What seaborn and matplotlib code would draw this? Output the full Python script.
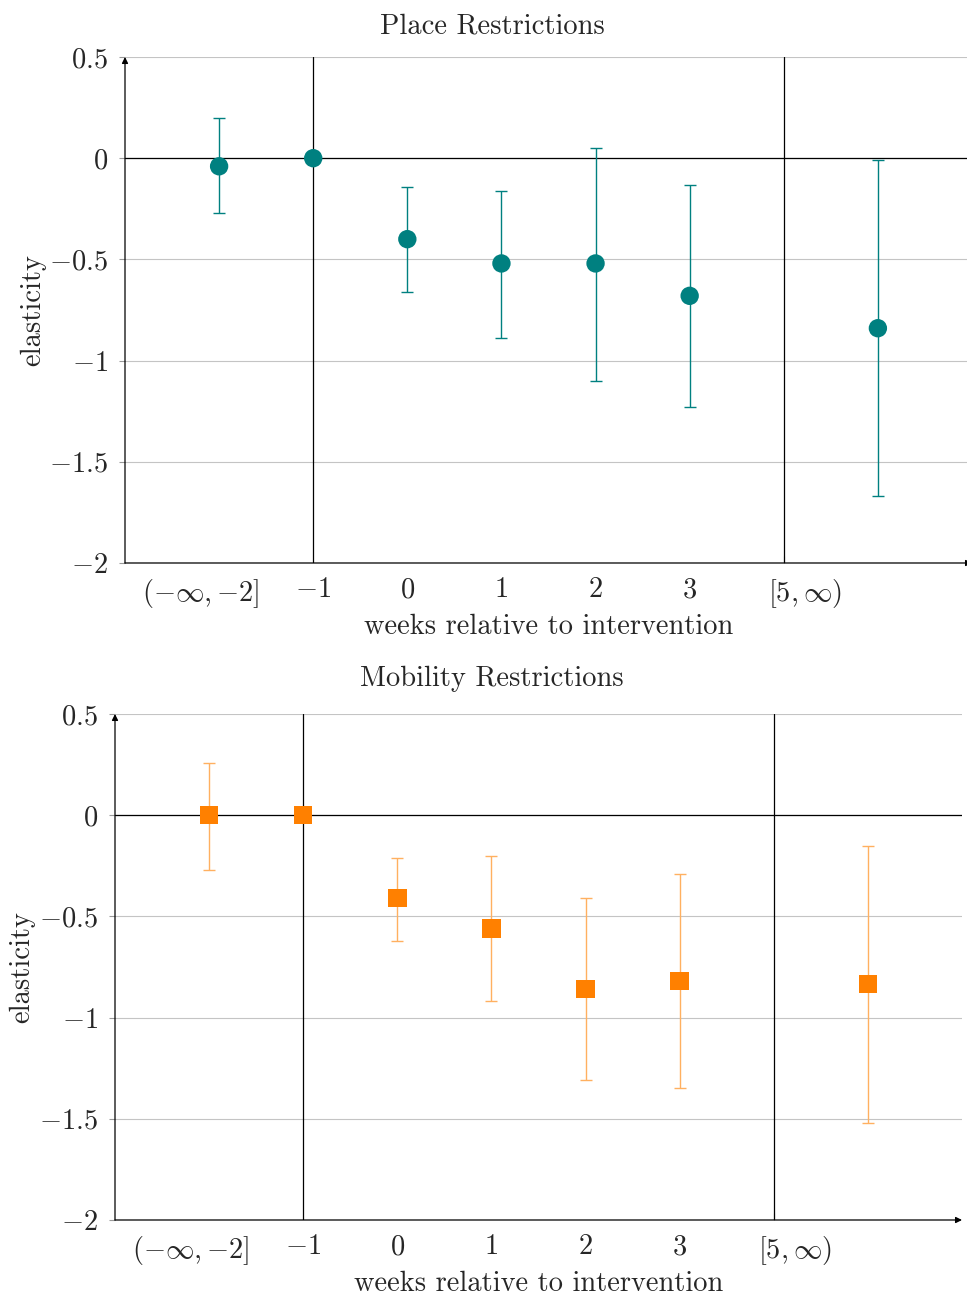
import numpy as np
import pandas as pd
import matplotlib
matplotlib.use("Agg")
import matplotlib.pyplot as plt
import seaborn as sns

# data
weeks = [-2, -1, 0, 1, 2, 3, 5]
place_est = [-0.04, 0.0, -0.40, -0.52, -0.52, -0.68, -0.84]
place_lo = [-0.27, np.nan, -0.66, -0.89, -1.10, -1.23, -1.67]
place_hi = [0.20, np.nan, -0.14, -0.16, 0.05, -0.13, -0.01]
mob_est = [0.0, 0.0, -0.41, -0.56, -0.86, -0.82, -0.835]
mob_lo = [-0.27, np.nan, -0.62, -0.92, -1.31, -1.35, -1.52]
mob_hi = [0.26, np.nan, -0.21, -0.20, -0.41, -0.29, -0.15]
tick_labels = [r"$(-\infty,{-}2]$", r"$-1$", r"$0$", r"$1$", r"$2$", r"$3$", r"$[5,\infty)$"]
ytick_vals = [0.5, 0, -0.5, -1, -1.5, -2]
ytick_labels = [r"$0.5$", r"$0$", r"$-0.5$", r"$-1$", r"$-1.5$", r"$-2$"]

sns.set_style("white")
plt.rcParams["font.family"] = ["cmr10", "DejaVu Serif"]
plt.rcParams["mathtext.fontset"] = "cm"
plt.rcParams["axes.formatter.use_mathtext"] = True

FS = 20.5
tick_pos = [-2.2, -1, 0, 1, 2, 3, 4.22]

fig = plt.figure(figsize=(9.67, 12.95), dpi=100)
W, H = 967, 1295


def make_axes(left, top, right, bottom):
    return fig.add_axes([left / W, 1 - bottom / H, (right - left) / W, (bottom - top) / H])


panels = [
    dict(box=(125, 57, 972, 563), title="Place Restrictions", ty=26,
         est=place_est, lo=place_lo, hi=place_hi, color="#008080", ecolor="#008080",
         marker="o", ylx=33),
    dict(box=(115, 714, 962, 1220), title="Mobility Restrictions", ty=679,
         est=mob_est, lo=mob_lo, hi=mob_hi, color="#ff8000", ecolor="#ffb060",
         marker="s", ylx=22),
]

for p in panels:
    ax = make_axes(*p["box"])
    df = pd.DataFrame({"week": weeks, "est": p["est"], "lo": p["lo"], "hi": p["hi"]})
    ax.set_xlim(-3, 6)
    ax.set_ylim(-2, 0.5)

    # grid + reference lines
    for yv in ytick_vals:
        ax.axhline(yv, color="#c4c4c4", lw=0.8, zorder=0)
    ax.axhline(0, color="black", lw=0.9, zorder=1)
    ax.axvline(-1, color="black", lw=0.9, zorder=1)
    ax.axvline(4, color="black", lw=0.9, zorder=1)

    err = df.dropna()
    ax.errorbar(err["week"], err["est"],
                yerr=[err["est"] - err["lo"], err["hi"] - err["est"]],
                fmt="none", ecolor=p["ecolor"], elinewidth=1.0, capsize=4.5,
                capthick=1.0, zorder=2)
    sns.scatterplot(data=df, x="week", y="est", ax=ax, color=p["color"],
                    marker=p["marker"], s=175, edgecolor="none", zorder=3,
                    legend=False)

    for s in ax.spines.values():
        s.set_visible(False)
    ax.annotate("", xy=(0, 1.0), xytext=(0, 0), xycoords="axes fraction",
                arrowprops=dict(arrowstyle="-|>", color="black", lw=0.9,
                                mutation_scale=9, shrinkA=0, shrinkB=0))
    ax.annotate("", xy=(1.0, 0), xytext=(0, 0), xycoords="axes fraction",
                arrowprops=dict(arrowstyle="-|>", color="black", lw=0.9,
                                mutation_scale=9, shrinkA=0, shrinkB=0))

    ax.set_xticks(tick_pos)
    ax.set_xticklabels(tick_labels, fontsize=FS)
    ax.set_xticks([-1, 0, 1, 2, 3, 4], minor=True)
    ax.tick_params(axis="x", which="major", length=0, pad=10)
    ax.tick_params(axis="x", which="minor", direction="in", length=5,
                   color="#999999", width=0.8, bottom=True)
    ax.set_yticks(ytick_vals)
    ax.set_yticklabels(ytick_labels, fontsize=FS)
    ax.tick_params(axis="y", direction="out", length=4, color="#999999",
                   width=0.8, pad=8, left=True)
    ax.set_xlabel("weeks relative to intervention", fontsize=FS, labelpad=3)
    ax.set_ylabel("")
    x0, y0, x1, y1 = p["box"]
    fig.text(p["ylx"] / W, 1 - ((y0 + y1) / 2) / H, "elasticity", fontsize=FS,
             rotation=90, ha="center", va="center")
    fig.text(492 / W, 1 - p["ty"] / H, p["title"], fontsize=FS,
             ha="center", va="center")

fig.savefig("out.png", dpi=100)
